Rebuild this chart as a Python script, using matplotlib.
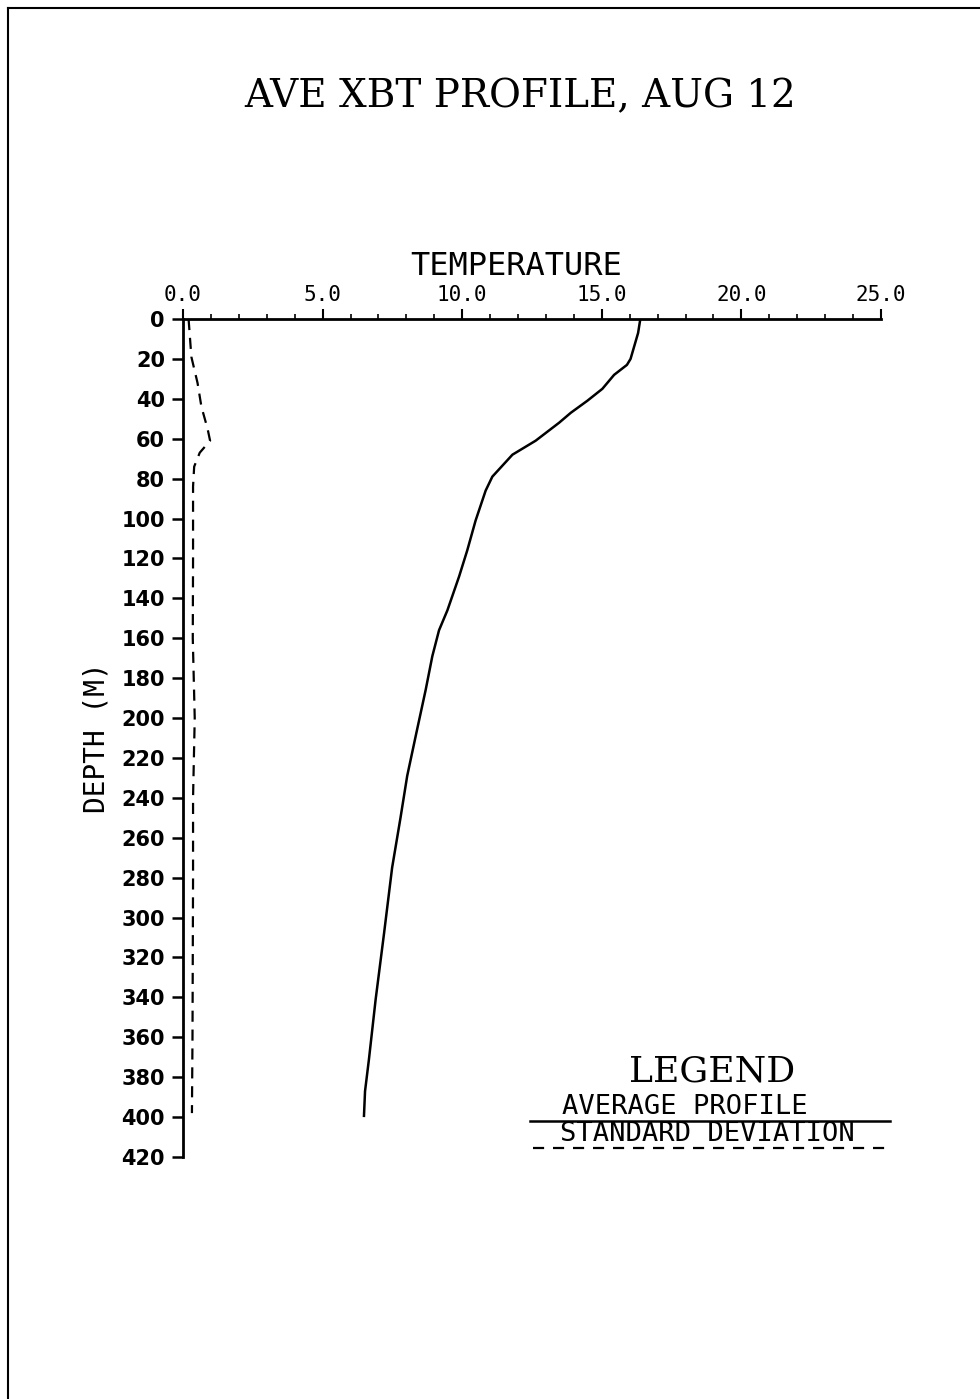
import numpy as np
import matplotlib.pyplot as plt
from matplotlib.lines import Line2D

# -------------------------------
# Data
# -------------------------------
depth_avg = [0, 7, 20, 23, 28, 35, 41, 47, 52, 61, 68, 79, 86, 101, 116, 129,
             146, 156, 169, 186, 208, 229, 250, 275, 308, 341, 371, 387, 400]
temp_avg = [16.38, 16.3, 16.03, 15.9, 15.44, 15.02, 14.48, 13.89, 13.47, 12.63,
            11.8, 11.08, 10.84, 10.48, 10.18, 9.89, 9.47, 9.17, 8.93, 8.69,
            8.35, 8.03, 7.79, 7.49, 7.2, 6.9, 6.66, 6.52, 6.48]

depth_sd = [0, 19, 32, 44, 55, 61, 67, 74, 84, 120, 160, 200, 240, 280, 320, 360, 398]
temp_sd = [0.2, 0.3, 0.52, 0.66, 0.88, 0.97, 0.6, 0.4, 0.36, 0.36, 0.35, 0.42,
           0.36, 0.36, 0.35, 0.34, 0.32]

x_ticks = [0.0, 5.0, 10.0, 15.0, 20.0, 25.0]
y_ticks = list(range(0, 421, 20))

mono = 'DejaVu Sans Mono'
serif = ['DejaVu Serif']

fig = plt.figure(figsize=(9.8, 13.99), dpi=100)
W, H = 980, 1399
ax = fig.add_axes([183 / W, 1 - 1157 / H, (881 - 183) / W, (1157 - 319) / H])

ax.plot(temp_avg, depth_avg, color='black', lw=1.8, solid_capstyle='butt')
ax.plot(temp_sd, depth_sd, color='black', lw=1.6, dashes=(5, 3.5))

ax.set_xlim(0, 25)
ax.set_ylim(420, 0)

for s in ['right', 'bottom']:
    ax.spines[s].set_visible(False)
for s in ['top', 'left']:
    ax.spines[s].set_linewidth(2.0)

ax.xaxis.tick_top()
ax.xaxis.set_label_position('top')
ax.set_xticks(x_ticks)
ax.set_xticklabels(['%.1f' % v for v in x_ticks], family=mono, fontsize=15)
ax.set_xticks(np.arange(0, 25.1, 1.0), minor=True)
ax.tick_params(axis='x', which='major', direction='out', length=7, width=1.5, pad=3)
ax.tick_params(axis='x', which='minor', direction='out', length=3.5, width=1.2)

ax.set_yticks(y_ticks)
ax.set_yticklabels([str(v) for v in y_ticks], family='DejaVu Sans',
                   fontsize=15, fontweight='bold')
ax.tick_params(axis='y', direction='out', length=8, width=1.8, pad=5)

ax.set_xlabel('TEMPERATURE', family=mono, fontsize=23)
ax.xaxis.set_label_coords(0.477, 1.052)
ax.set_ylabel('DEPTH (M)', family=mono, fontsize=20, labelpad=8)

# title
fig.text(520 / W, 1 - 97 / H, 'AVE XBT PROFILE, AUG 12', family=serif,
         fontsize=28, ha='center', va='center')

# hand-drawn legend block
fig.text(712 / W, 1 - 1071 / H, 'LEGEND', family=serif, fontsize=26,
         ha='center', va='center')
fig.text(562 / W, 1 - 1107 / H, 'AVERAGE PROFILE', family=mono, fontsize=19.5,
         ha='left', va='center')
fig.text(560 / W, 1 - 1134 / H, 'STANDARD DEVIATION', family=mono, fontsize=19.5,
         ha='left', va='center')
fig.add_artist(Line2D([530 / W, 890 / W], [1 - 1121 / H, 1 - 1121 / H],
                      transform=fig.transFigure, color='black', lw=1.8))
fig.add_artist(Line2D([533 / W, 888 / W], [1 - 1148 / H, 1 - 1148 / H],
                      transform=fig.transFigure, color='black', lw=1.6,
                      dashes=(5, 4)))

# page frame (top and left edges)
fig.add_artist(Line2D([8 / W, 1.0], [1 - 8 / H, 1 - 8 / H],
                      transform=fig.transFigure, color='black', lw=1.5))
fig.add_artist(Line2D([8 / W, 8 / W], [0.0, 1 - 8 / H],
                      transform=fig.transFigure, color='black', lw=1.5))

fig.savefig('out.png', dpi=100)
